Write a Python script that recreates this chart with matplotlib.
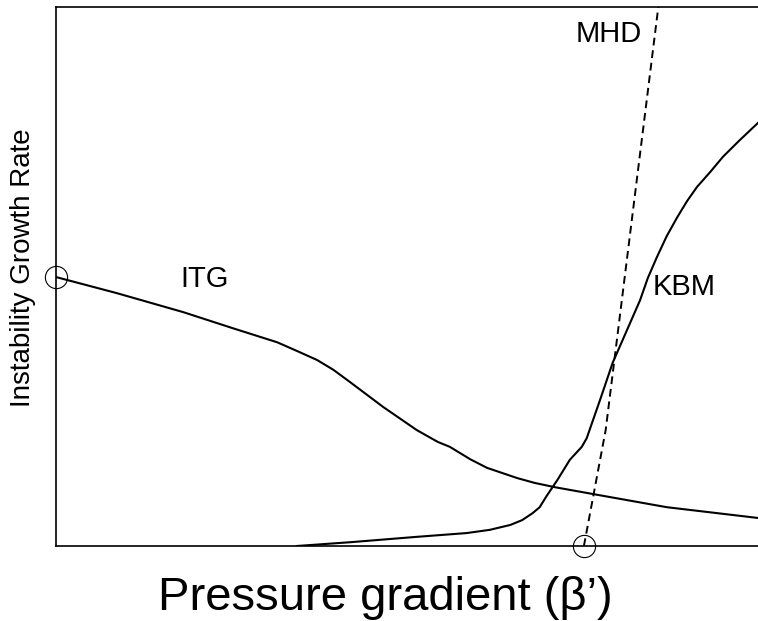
import matplotlib
matplotlib.use("Agg")
import matplotlib.pyplot as plt

plt.rcParams['font.family'] = ['Liberation Sans', 'DejaVu Sans']

# values (arbitrary units, axis spans 0..1 both ways)
itg_x = [0.0, 0.087, 0.181, 0.252, 0.315, 0.343, 0.372, 0.395, 0.419, 0.466,
         0.514, 0.544, 0.561, 0.590, 0.614, 0.657, 0.682, 0.711, 0.771, 0.870, 1.0]
itg_y = [0.499, 0.469, 0.434, 0.404, 0.378, 0.362, 0.345, 0.327, 0.304, 0.258,
         0.215, 0.193, 0.184, 0.161, 0.145, 0.126, 0.117, 0.109, 0.095, 0.072, 0.052]

kbm_x = [0.343, 0.419, 0.514, 0.585, 0.618, 0.647, 0.664, 0.679, 0.689, 0.699,
         0.714, 0.732, 0.749, 0.756, 0.775, 0.793, 0.832, 0.843, 0.856, 0.870,
         0.885, 0.899, 0.913, 0.932, 0.950, 0.974, 1.0]
kbm_y = [0.0, 0.007, 0.017, 0.024, 0.030, 0.039, 0.048, 0.061, 0.072, 0.093,
         0.122, 0.160, 0.184, 0.200, 0.271, 0.340, 0.456, 0.497, 0.536, 0.575,
         0.610, 0.640, 0.666, 0.694, 0.722, 0.753, 0.785]

mhd_x = [0.752, 0.783, 0.858]
mhd_y = [0.0, 0.215, 1.0]

# circled threshold points
thr_x = [0.0, 0.752]
thr_y = [0.499, 0.0]

fig = plt.figure(figsize=(7.58, 6.21), dpi=100)
ax = fig.add_axes([56/758, 75/621, 702/758, 539/621])

ax.plot(itg_x, itg_y, color='black', lw=1.5)
ax.plot(kbm_x, kbm_y, color='black', lw=1.5)
ax.plot(mhd_x, mhd_y, color='black', lw=1.4, dashes=(4, 2.5))
ax.plot(thr_x, thr_y, 'o', ms=16, mfc='none', mec='black', mew=0.8,
        clip_on=False, zorder=5)

ax.text(0.212, 0.495, 'ITG', fontsize=21, ha='center', va='center')
ax.text(0.895, 0.480, 'KBM', fontsize=21, ha='center', va='center')
ax.text(0.788, 0.950, 'MHD', fontsize=21, ha='center', va='center')

ax.set_xlim(0, 1)
ax.set_ylim(0, 1)
ax.set_xticks([])
ax.set_yticks([])
ax.spines['right'].set_visible(False)
for s in ['left', 'top', 'bottom']:
    ax.spines[s].set_linewidth(1.2)

fig.text(23/758, 1 - 268/621, 'Instability Growth Rate', fontsize=20,
         rotation=90, ha='center', va='center')
fig.text(385/758, 1 - 598/621, 'Pressure gradient (β’)', fontsize=34,
         ha='center', va='center')

fig.savefig('out.png', dpi=100)
